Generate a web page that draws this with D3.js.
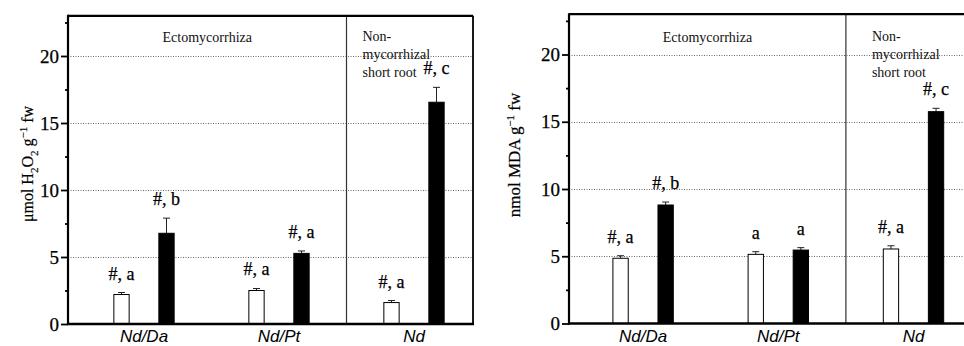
<!DOCTYPE html>
<html><head><meta charset="utf-8">
<script src="https://cdn.jsdelivr.net/npm/d3@7"></script>
<style>html,body{margin:0;padding:0;background:#fff;}svg{display:block;}</style>
</head><body>
<script>
// ---- data ----
const groups = ["Nd/Da", "Nd/Pt", "Nd"];
const h2o2White = [2.2, 2.5, 1.6];
const h2o2WhiteErr = [0.15, 0.15, 0.15];
const h2o2Black = [6.77, 5.27, 16.55];
const h2o2BlackErr = [1.13, 0.18, 1.11];
const h2o2WhiteLabels = ["#, a", "#, a", "#, a"];
const h2o2BlackLabels = ["#, b", "#, a", "#, c"];
const mdaWhite = [4.85, 5.14, 5.54];
const mdaWhiteErr = [0.19, 0.2, 0.24];
const mdaBlack = [8.81, 5.46, 15.75];
const mdaBlackErr = [0.22, 0.18, 0.25];
const mdaWhiteLabels = ["#, a", "a", "#, a"];
const mdaBlackLabels = ["#, b", "a", "#, c"];
const majorTicks = [0, 5, 10, 15, 20];
const minorTicks = [2.5, 7.5, 12.5, 17.5, 22.5];
const regionLabels = ["Ectomycorrhiza", ["Non-", "mycorrhizal", "short root"]];

const W = 964, H = 346;
const svg = d3.select("body").append("svg").attr("width", W).attr("height", H);
const serif = "'Liberation Serif', 'Times New Roman', serif";
const sans = "'Liberation Sans', Arial, sans-serif";

function drawPanel(cfg) {
  const g = svg.append("g");
  const y = d3.scaleLinear().domain([0, 23]).range([cfg.y0, cfg.y0 - 23 * cfg.unit]);
  const x = d3.scaleBand().domain(groups).range([cfg.bandStart, cfg.bandStart + 3 * cfg.step]);
  const sub = d3.scaleBand().domain(["w", "b"]).range([0, x.bandwidth()]).paddingInner(0.66).paddingOuter(0.83);
  const bw = sub.bandwidth();
  const top = y(23);
  const divX = x("Nd");

  // gridlines
  g.selectAll(".grid").data(majorTicks.filter(d => d > 0)).join("line")
    .attr("x1", cfg.axisX).attr("x2", cfg.rightX)
    .attr("y1", d => Math.round(y(d)) + 0.5).attr("y2", d => Math.round(y(d)) + 0.5)
    .attr("stroke", "#666").attr("stroke-width", 1).attr("stroke-dasharray", "1,1.5");

  // divider
  g.append("line").attr("x1", divX).attr("x2", divX).attr("y1", top).attr("y2", cfg.y0)
    .attr("stroke", "#333").attr("stroke-width", 1.2);

  // frame: top & right
  g.append("line").attr("x1", cfg.axisX).attr("x2", cfg.rightX).attr("y1", top).attr("y2", top)
    .attr("stroke", "#000").attr("stroke-width", 2.2);
  g.append("line").attr("x1", cfg.rightX).attr("x2", cfg.rightX).attr("y1", top).attr("y2", cfg.y0)
    .attr("stroke", "#000").attr("stroke-width", 1.8);

  // bars
  const series = [
    {key: "w", vals: cfg.white, errs: cfg.whiteErr, labels: cfg.whiteLabels, fill: "#fff"},
    {key: "b", vals: cfg.black, errs: cfg.blackErr, labels: cfg.blackLabels, fill: "#000"}
  ];
  series.forEach(s => {
    const data = groups.map((grp, i) => ({grp, v: s.vals[i], e: s.errs[i], lab: s.labels[i]}));
    const cx = d => x(d.grp) + sub(s.key) + bw / 2;
    g.selectAll(null).data(data).join("line")
      .attr("x1", cx).attr("x2", cx).attr("y1", d => y(d.v)).attr("y2", d => y(d.v + d.e))
      .attr("stroke", "#222").attr("stroke-width", 1);
    g.selectAll(null).data(data).join("line")
      .attr("x1", d => cx(d) - 3.5).attr("x2", d => cx(d) + 3.5)
      .attr("y1", d => y(d.v + d.e)).attr("y2", d => y(d.v + d.e))
      .attr("stroke", "#222").attr("stroke-width", 1);
    g.selectAll(null).data(data).join("rect")
      .attr("x", d => cx(d) - bw / 2).attr("width", bw)
      .attr("y", d => y(d.v)).attr("height", d => y(0) - y(d.v))
      .attr("fill", s.fill).attr("stroke", "#000").attr("stroke-width", 1);
    g.selectAll(null).data(data).join("text")
      .attr("x", cx).attr("y", d => y(d.v + d.e) - 13)
      .attr("text-anchor", "middle").attr("font-family", serif).attr("font-size", 18)
      .attr("fill", "#000").attr("stroke", "#000").attr("stroke-width", 0.25).text(d => d.lab);
  });

  // y axis
  const axis = d3.axisLeft(y).tickValues(majorTicks).tickSize(7).tickPadding(2).tickFormat(d3.format("d"));
  const ax = g.append("g").attr("transform", `translate(${cfg.axisX},0)`).call(axis);
  ax.select(".domain").remove();
  ax.selectAll(".tick line").attr("stroke", "#000").attr("stroke-width", 1.8);
  ax.selectAll(".tick text").attr("font-family", serif).attr("font-size", 19).attr("fill", "#000")
    .attr("stroke", "#000").attr("stroke-width", 0.25);
  const axMinor = d3.axisLeft(y).tickValues(minorTicks).tickSize(3).tickFormat("");
  const am = g.append("g").attr("transform", `translate(${cfg.axisX},0)`).call(axMinor);
  am.select(".domain").remove();
  am.selectAll(".tick line").attr("stroke", "#000").attr("stroke-width", 1.8);
  g.append("line").attr("x1", cfg.axisX).attr("x2", cfg.axisX).attr("y1", top - 1).attr("y2", cfg.y0 + 1)
    .attr("stroke", "#000").attr("stroke-width", 2.2);
  g.append("line").attr("x1", cfg.axisX - 1).attr("x2", cfg.rightX + 1).attr("y1", cfg.y0).attr("y2", cfg.y0)
    .attr("stroke", "#000").attr("stroke-width", 2.4);

  // x labels
  g.selectAll(".xl").data(groups).join("text")
    .attr("x", d => x(d) + x.bandwidth() / 2).attr("y", 342)
    .attr("text-anchor", "middle").attr("font-family", sans).attr("font-style", "italic")
    .attr("font-size", 17).attr("fill", "#000").text(d => d);

  // region labels
  g.append("text").attr("x", (cfg.axisX + divX) / 2).attr("y", 42)
    .attr("text-anchor", "middle").attr("font-family", serif).attr("font-size", 14)
    .attr("fill", "#111").text(regionLabels[0]);
  g.append("g").selectAll("text").data(regionLabels[1]).join("text")
    .attr("x", divX + cfg.nonDx).attr("y", (d, i) => 41 + i * 18)
    .attr("font-family", serif).attr("font-size", 14).attr("fill", "#111").text(d => d);

  // y title
  const t = g.append("text").attr("transform", `translate(${cfg.titleX},${cfg.titleY}) rotate(-90)`)
    .attr("text-anchor", "middle").attr("font-family", serif).attr("font-size", cfg.titleSize)
    .attr("fill", "#000").attr("stroke", "#000").attr("stroke-width", 0.2);
  cfg.title(t);
}

drawPanel({
  axisX: 68, rightX: 473, y0: 324, unit: 13.4, bandStart: 76.5, step: 135, nonDx: 16,
  white: h2o2White, whiteErr: h2o2WhiteErr, black: h2o2Black, blackErr: h2o2BlackErr,
  whiteLabels: h2o2WhiteLabels, blackLabels: h2o2BlackLabels,
  titleX: 33, titleY: 164, titleSize: 16,
  title: t => {
    t.append("tspan").text("μmol H");
    t.append("tspan").attr("font-size", 11).attr("dy", 5).text("2");
    t.append("tspan").attr("dy", -5).text("O");
    t.append("tspan").attr("font-size", 11).attr("dy", 5).text("2");
    t.append("tspan").attr("dy", -5).text(" g");
    t.append("tspan").attr("font-size", 11).attr("dy", -6).text("−1");
    t.append("tspan").attr("dy", 6).text(" fw");
  }
});
drawPanel({
  axisX: 569, rightX: 968, y0: 323.5, unit: 13.45, bandStart: 575.5, step: 135.2, nonDx: 26,
  white: mdaWhite, whiteErr: mdaWhiteErr, black: mdaBlack, blackErr: mdaBlackErr,
  whiteLabels: mdaWhiteLabels, blackLabels: mdaBlackLabels,
  titleX: 520, titleY: 155, titleSize: 17,
  title: t => {
    t.append("tspan").text("nmol MDA g");
    t.append("tspan").attr("font-size", 11).attr("dy", -6).text("−1");
    t.append("tspan").attr("dy", 6).text(" fw");
  }
});
</script>
</body></html>
